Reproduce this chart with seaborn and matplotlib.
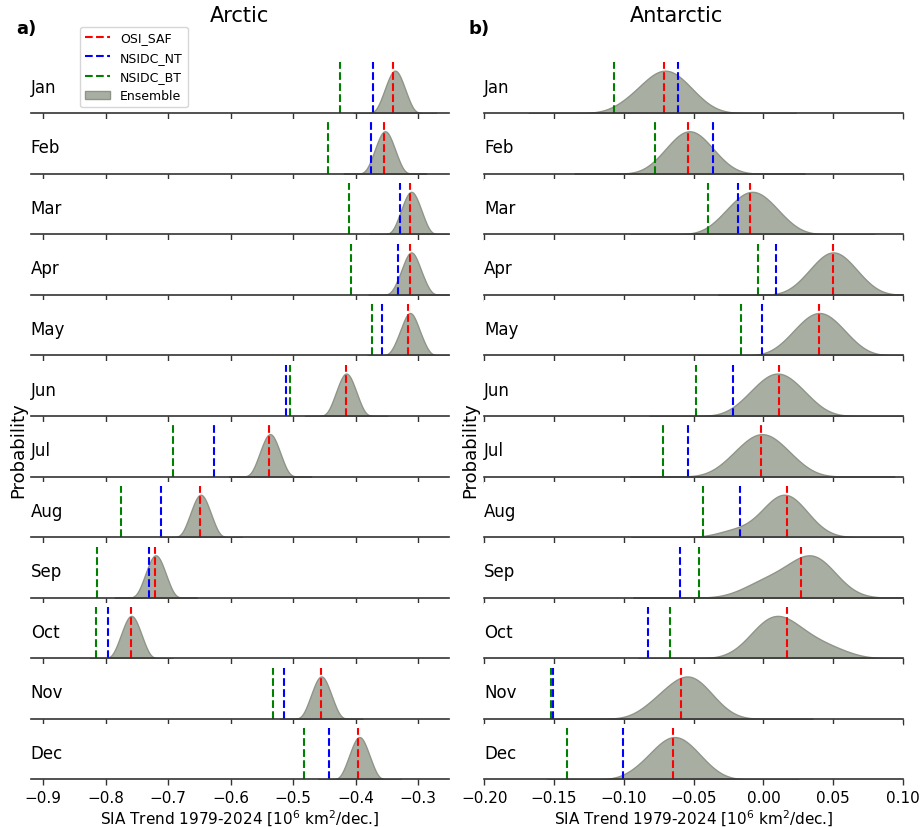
import matplotlib
matplotlib.use("Agg")
import numpy as np
import pandas as pd
import matplotlib.pyplot as plt
from matplotlib.lines import Line2D
from matplotlib.patches import Patch
import seaborn as sns

# ---------------------------------------------------------------------------
# Data: monthly sea-ice-area trends 1979-2024 [10^6 km^2 / decade]
# ---------------------------------------------------------------------------
months = ["Jan", "Feb", "Mar", "Apr", "May", "Jun",
          "Jul", "Aug", "Sep", "Oct", "Nov", "Dec"]

arctic_osi_saf = [-0.341, -0.354, -0.313, -0.313, -0.317, -0.416,
                  -0.538, -0.649, -0.721, -0.760, -0.456, -0.397]
arctic_nsidc_nt = [-0.372, -0.376, -0.329, -0.332, -0.358, -0.512,
                   -0.627, -0.712, -0.730, -0.796, -0.514, -0.442]
arctic_nsidc_bt = [-0.425, -0.444, -0.410, -0.407, -0.374, -0.505,
                   -0.692, -0.775, -0.814, -0.815, -0.532, -0.482]

antarctic_osi_saf = [-0.071, -0.054, -0.010, 0.050, 0.040, 0.011,
                     -0.002, 0.017, 0.027, 0.017, -0.059, -0.065]
antarctic_nsidc_nt = [-0.061, -0.036, -0.018, 0.009, -0.001, -0.022,
                      -0.054, -0.017, -0.060, -0.083, -0.151, -0.101]
antarctic_nsidc_bt = [-0.107, -0.078, -0.040, -0.004, -0.016, -0.048,
                      -0.072, -0.043, -0.046, -0.067, -0.152, -0.141]

# Ensemble members, one row per month
arctic_ensemble = [
    [-0.357, -0.350, -0.345, -0.342, -0.339, -0.335, -0.332, -0.329, -0.324, -0.317],
    [-0.373, -0.366, -0.361, -0.358, -0.355, -0.351, -0.348, -0.345, -0.340, -0.333],
    [-0.331, -0.324, -0.319, -0.316, -0.313, -0.309, -0.306, -0.303, -0.298, -0.291],
    [-0.332, -0.324, -0.319, -0.316, -0.313, -0.309, -0.306, -0.303, -0.298, -0.290],
    [-0.334, -0.326, -0.321, -0.318, -0.315, -0.311, -0.308, -0.305, -0.300, -0.292],
    [-0.435, -0.428, -0.423, -0.420, -0.417, -0.413, -0.410, -0.407, -0.402, -0.395],
    [-0.557, -0.550, -0.545, -0.542, -0.539, -0.535, -0.532, -0.529, -0.524, -0.517],
    [-0.668, -0.661, -0.656, -0.653, -0.650, -0.646, -0.643, -0.640, -0.635, -0.628],
    [-0.740, -0.733, -0.728, -0.725, -0.722, -0.718, -0.715, -0.712, -0.707, -0.700],
    [-0.779, -0.772, -0.767, -0.764, -0.761, -0.757, -0.754, -0.751, -0.746, -0.739],
    [-0.475, -0.468, -0.463, -0.460, -0.457, -0.453, -0.450, -0.447, -0.442, -0.435],
    [-0.414, -0.407, -0.402, -0.399, -0.396, -0.392, -0.389, -0.386, -0.381, -0.374],
]
antarctic_ensemble = [
    [-0.097, -0.086, -0.081, -0.076, -0.073, -0.069, -0.066, -0.061, -0.057, -0.048],
    [-0.074, -0.066, -0.061, -0.058, -0.055, -0.051, -0.048, -0.045, -0.040, -0.032],
    [-0.030, -0.022, -0.017, -0.013, -0.010, -0.006, -0.003, 0.001, 0.006, 0.014],
    [0.029, 0.037, 0.042, 0.045, 0.048, 0.052, 0.055, 0.058, 0.063, 0.071],
    [0.018, 0.026, 0.031, 0.035, 0.038, 0.042, 0.045, 0.049, 0.054, 0.062],
    [-0.013, -0.005, 0.001, 0.005, 0.008, 0.012, 0.015, 0.020, 0.025, 0.033],
    [-0.025, -0.016, -0.011, -0.006, -0.003, 0.001, 0.004, 0.009, 0.014, 0.023],
    [-0.022, -0.003, 0.004, 0.008, 0.011, 0.014, 0.016, 0.019, 0.022, 0.026, 0.033],
    [-0.008, 0.003, 0.011, 0.020, 0.027, 0.031, 0.034, 0.036, 0.039, 0.043, 0.049],
    [-0.007, -0.002, 0.002, 0.005, 0.008, 0.011, 0.014, 0.018, 0.023, 0.030, 0.039, 0.052],
    [-0.081, -0.072, -0.066, -0.061, -0.057, -0.054, -0.050, -0.047, -0.043, -0.034],
    [-0.088, -0.078, -0.073, -0.069, -0.066, -0.062, -0.059, -0.055, -0.050, -0.042],
]

arctic_ticks = [-0.9, -0.8, -0.7, -0.6, -0.5, -0.4, -0.3]
antarctic_ticks = [-0.20, -0.15, -0.10, -0.05, 0.00, 0.05, 0.10]

# ---------------------------------------------------------------------------
# Styling
# ---------------------------------------------------------------------------
sns.set_theme(style="ticks")
plt.rcParams["font.family"] = ["DejaVu Sans"]
plt.rcParams.update({"text.color": "black", "axes.labelcolor": "black",
                     "xtick.color": "black", "ytick.color": "black"})

ENS_FACE = "#a9aea3"
ENS_EDGE = "#8e9588"
SOURCE_COLORS = {"OSI_SAF": "red", "NSIDC_NT": "blue", "NSIDC_BT": "green"}
PEAK_FRAC = 0.77    # height of each density peak inside its row
LINE_FRAC = 0.93    # top of the dashed reference lines


def long_table(ensemble):
    rows = []
    for m, members in zip(months, ensemble):
        for v in members:
            rows.append({"month": m, "trend": v})
    return pd.DataFrame(rows)


panels = [
    dict(title="Arctic", ens=long_table(arctic_ensemble), bw=1.0,
         osi=arctic_osi_saf, nt=arctic_nsidc_nt, bt=arctic_nsidc_bt,
         xlim=(-0.92, -0.25), ticks=arctic_ticks, fmt="{:.1f}", ylab_x=-0.009),
    dict(title="Antarctic", ens=long_table(antarctic_ensemble), bw=1.3,
         osi=antarctic_osi_saf, nt=antarctic_nsidc_nt, bt=antarctic_nsidc_bt,
         xlim=(-0.20, 0.10), ticks=antarctic_ticks, fmt="{:.2f}", ylab_x=-0.012),
]

fig, axes = plt.subplots(12, 2, figsize=(9.21, 8.28), dpi=100)
fig.subplots_adjust(left=0.0333, right=0.9805, top=0.9287, bottom=0.0574,
                    hspace=0.1, wspace=0.0835)

for col, p in enumerate(panels):
    for row, month in enumerate(months):
        ax = axes[row, col]
        sub = p["ens"][p["ens"]["month"] == month]
        sns.kdeplot(data=sub, x="trend", ax=ax, fill=True, bw_adjust=p["bw"],
                    cut=6, gridsize=400,
                    facecolor=ENS_FACE, edgecolor=ENS_EDGE, linewidth=1.0)
        peak = ax.dataLim.y1
        ax.set_ylim(0, peak / PEAK_FRAC)

        for name, vals in (("OSI_SAF", p["osi"]), ("NSIDC_NT", p["nt"]),
                           ("NSIDC_BT", p["bt"])):
            ax.axvline(vals[row], ymin=0, ymax=LINE_FRAC,
                       color=SOURCE_COLORS[name], linestyle="--", linewidth=1.5)

        ax.set_xlim(*p["xlim"])
        ax.set_xticks(p["ticks"])
        ax.set_yticks([])
        ax.set_ylabel("")
        ax.set_xlabel("")
        for side in ("left", "top", "right"):
            ax.spines[side].set_visible(False)
        ax.spines["bottom"].set_color("#333333")
        ax.spines["bottom"].set_linewidth(1.2)
        ax.tick_params(axis="x", direction="out", length=4, width=1,
                       color="#333333", labelsize=11, labelcolor="black")
        ax.text(0.0, 0.48, month, transform=ax.transAxes, ha="left",
                va="center", fontsize=12, color="black")
        if row < 11:
            ax.tick_params(labelbottom=False)
        else:
            ax.set_xticklabels([p["fmt"].format(t).replace("-", "\u2212")
                                for t in p["ticks"]])
            ax.set_xlabel("SIA Trend 1979-2024 [10$^6$ km$^2$/dec.]",
                          fontsize=11, labelpad=2, color="black")
        if row == 6:
            ax.set_ylabel("Probability", fontsize=13, color="black")
            ax.yaxis.set_label_coords(p["ylab_x"], 0.5)

fig.text(0.2604, 1 - 15.5 / 828, "Arctic", ha="center", va="center",
         fontsize=15, color="black")
fig.text(676.5 / 921, 1 - 15.5 / 828, "Antarctic", ha="center", va="center",
         fontsize=15, color="black")
fig.text(16.5 / 921, 1 - 34.5 / 828, "a)", ha="left", va="baseline",
         fontsize=13, fontweight="bold", color="black")
fig.text(468 / 921, 1 - 34.5 / 828, "b)", ha="left", va="baseline",
         fontsize=13, fontweight="bold", color="black")

handles = [Line2D([], [], color=SOURCE_COLORS[k], linestyle="--", linewidth=1.5)
           for k in ("OSI_SAF", "NSIDC_NT", "NSIDC_BT")]
handles.append(Patch(facecolor=ENS_FACE, edgecolor=ENS_EDGE, linewidth=1.0))
leg = fig.legend(handles, ["OSI_SAF", "NSIDC_NT", "NSIDC_BT", "Ensemble"],
                 loc="upper left", bbox_to_anchor=(80 / 921, 1 - 27.5 / 828),
                 fontsize=9, frameon=True, framealpha=0.8, edgecolor="0.8",
                 fancybox=True, borderaxespad=0)
for t in leg.get_texts():
    t.set_color("black")

fig.savefig("out.png", dpi=100)
